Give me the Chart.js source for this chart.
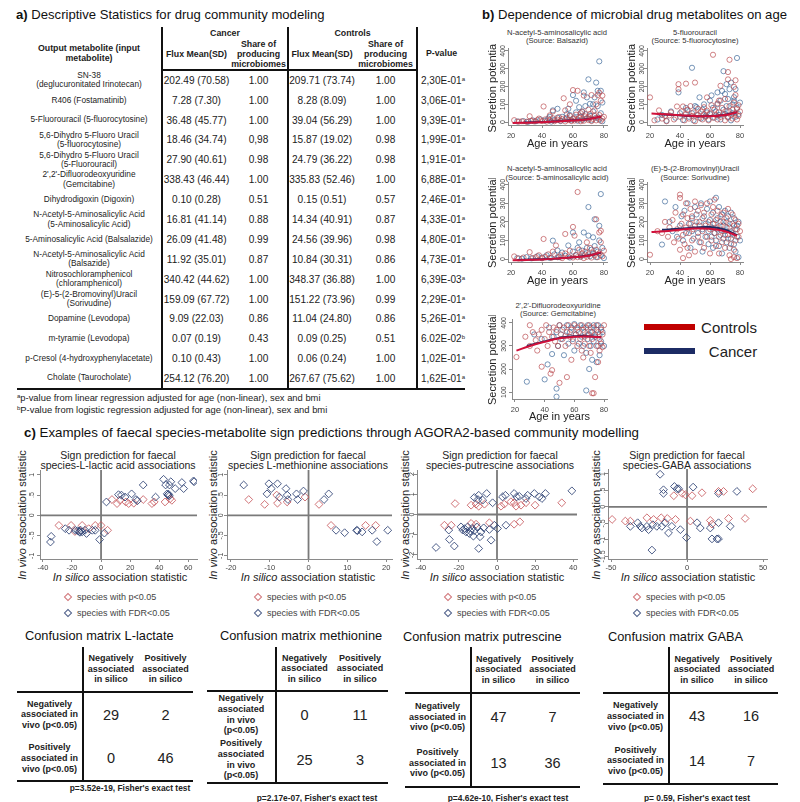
<!DOCTYPE html>
<html lang="en">
<head>
<meta charset="UTF-8">
<title>Drug community modeling</title>
<script src="https://cdn.jsdelivr.net/npm/chart.js"></script>
<style>
  * { box-sizing: border-box; }
  body { margin:0; background:#fff; font-family:"Liberation Sans", Arial, sans-serif; color:#222; }
  #page { position:relative; width:800px; height:802px; overflow:hidden; }
  .abs { position:absolute; white-space:nowrap; line-height:1; }
  .c { position:absolute; white-space:nowrap; line-height:1; transform:translate(-50%,-50%); text-align:center; }
  .rot { transform:translate(-50%,-50%) rotate(-90deg); }
  .ptitle { font-size:13.1px; color:#111; }
  .st { font-size:7.6px; color:#333; }
  .ct { font-size:10.5px; color:#222; }
  .ax { font-size:11px; color:#222; }
  .lg { font-size:9px; color:#444; }
  .dia { position:absolute; width:6px; height:6px; border:1px solid; transform:translate(-50%,-50%) rotate(45deg); }
  canvas { position:absolute; }
  #ta { position:absolute; left:17px; top:27px; width:448px; border-collapse:collapse; table-layout:fixed; }
  #ta td, #ta th { padding:0; text-align:center; vertical-align:middle; color:#1c1c1c; }
  #ta th { font-size:8.8px; line-height:1.15; }
  #ta td.lab { font-size:8.3px; line-height:1.12; }
  #ta td.val { font-size:10.1px; white-space:nowrap; }
  #ta td.p { text-align:left; padding-left:3px; font-size:10px; white-space:nowrap; }
  #ta .vr { border-right:2px solid #111; }
  #ta tr.h2 th { border-bottom:2px solid #111; }
  #ta tr.last td { border-bottom:2px solid #111; }
  .sup { font-size:6px; position:relative; top:-3px; }
  .fn { font-size:9.4px; color:#222; }
  .cmt { font-size:12.8px; color:#111; }
  table.cm { position:absolute; border-collapse:collapse; table-layout:fixed; }
  table.cm th, table.cm td { padding:0; text-align:center; vertical-align:middle; color:#222; }
  table.cm th { font-size:9px; line-height:1.17; }
  table.cm td.n { font-size:14.5px; }
  table.cm .vr { border-right:2px solid #111; }
  table.cm tr.hd th { border-bottom:2px solid #111; }
  table.cm tr.r2 th, table.cm tr.r2 td { border-bottom:2px solid #111; }
  .foot { font-size:8.4px; font-weight:bold; color:#222; }
</style>
</head>
<body>
<div id="page">
  <div class="abs ptitle" style="left:16px;top:8px"><b>a)</b> Descriptive Statistics for drug community modeling</div>
  <div class="abs ptitle" style="left:482px;top:8px"><b>b)</b> Dependence of microbial drug metabolites on age</div>
  <div class="abs ptitle" style="left:24px;top:426px;font-size:13.3px"><b>c)</b> Examples of faecal species-metabolite sign predictions through AGORA2-based community modelling</div>

  <table id="ta">
    <colgroup><col style="width:145px"><col style="width:68px"><col style="width:58px"><col style="width:67px"><col style="width:62px"><col style="width:48px"></colgroup>
    <tr class="h1" style="height:12px">
      <th rowspan="2" class="vr" style="padding-top:8px">Output metabolite (input<br>metabolite)</th>
      <th colspan="2" class="vr">Cancer</th>
      <th colspan="2" class="vr">Controls</th>
      <th rowspan="2" style="padding-top:8px">P-value</th>
    </tr>
    <tr class="h2" style="height:29px">
      <th>Flux Mean(SD)</th><th class="vr">Share of<br>producing<br>microbiomes</th>
      <th>Flux Mean(SD)</th><th class="vr">Share of<br>producing<br>microbiomes</th>
    </tr>
    <tbody id="tbody"></tbody>
  </table>
  <div class="abs fn" style="left:17px;top:393px"><span class="sup">a</span>p-value from linear regression adjusted for age (non-linear), sex and bmi</div>
  <div class="abs fn" style="left:17px;top:405px"><span class="sup">b</span>P-value from logistic regression adjusted for age (non-linear), sex and bmi</div>

  <!-- panel b subtitles -->
  <div class="c st" style="left:557px;top:33px">N-acetyl-5-aminosalicylic acid</div>
  <div class="c st" style="left:557px;top:41px">(Source: Balsazid)</div>
  <div class="c st" style="left:695px;top:33px">5-fluorouracil</div>
  <div class="c st" style="left:695px;top:41px">(Source: 5-fluorocytosine)</div>
  <div class="c st" style="left:557px;top:169px">N-acetyl-5-aminosalicylic acid</div>
  <div class="c st" style="left:557px;top:178px">(Source: 5-aminosalicylic acid)</div>
  <div class="c st" style="left:695px;top:169px">(E)-5-(2-Bromovinyl)Uracil</div>
  <div class="c st" style="left:695px;top:178px">(Source: Sorivudine)</div>
  <div class="c st" style="left:558px;top:306px">2',2'-Difluorodeoxyuridine</div>
  <div class="c st" style="left:558px;top:314px">(Source: Gemcitabine)</div>

  <!-- panel b legend -->
  <div class="abs" style="left:644px;top:324px;width:51px;height:6px;background:#c00000"></div>
  <div class="c" style="left:729px;top:327px;font-size:15px">Controls</div>
  <div class="abs" style="left:644px;top:348px;width:51px;height:6px;background:#1c2b64"></div>
  <div class="c" style="left:733px;top:351px;font-size:15px">Cancer</div>

  <!-- panel c titles -->
  <div class="c ct" style="left:118px;top:455px">Sign prediction for faecal</div>
  <div class="c ct" style="left:118px;top:465px">species-L-lactic acid associations</div>
  <div class="c ct" style="left:308px;top:455px">Sign prediction for faecal</div>
  <div class="c ct" style="left:308px;top:465px">species L-methionine associations</div>
  <div class="c ct" style="left:500px;top:455px">Sign prediction for faecal</div>
  <div class="c ct" style="left:500px;top:465px">species-putrescine associations</div>
  <div class="c ct" style="left:687px;top:455px">Sign prediction for faecal</div>
  <div class="c ct" style="left:687px;top:465px">species-GABA associations</div>

  <div class="c ax" style="left:120px;top:577px"><i>In silico</i> association statistic</div>
  <div class="c ax" style="left:308px;top:577px"><i>In silico</i> association statistic</div>
  <div class="c ax" style="left:497px;top:577px"><i>In silico</i> association statistic</div>
  <div class="c ax" style="left:688px;top:577px"><i>In silico</i> association statistic</div>
  <div class="c ax rot" style="left:22px;top:515px"><i>In vivo</i> association statistic</div>
  <div class="c ax rot" style="left:213px;top:515px"><i>In vivo</i> association statistic</div>
  <div class="c ax rot" style="left:405px;top:515px"><i>In vivo</i> association statistic</div>
  <div class="c ax rot" style="left:596px;top:515px"><i>In vivo</i> association statistic</div>
</div>

<script>
// ---------- panel a table ----------
const metabolites = [
  'SN-38\n(deglucuronitated Irinotecan)', 'R406 (Fostamatinib)', '5-Fluorouracil (5-fluorocytosine)',
  '5,6-Dihydro 5-Fluoro Uracil\n(5-fluorocytosine)', '5,6-Dihydro 5-Fluoro Uracil\n(5-Fluorouracil)',
  "2',2'-Difluorodeoxyuridine\n(Gemcitabine)", 'Dihydrodigoxin (Digoxin)',
  'N-Acetyl-5-Aminosalicylic Acid\n(5-Aminosalicylic Acid)', '5-Aminosalicylic Acid (Balsalazide)',
  'N-Acetyl-5-Aminosalicylic Acid\n(Balsazide)', 'Nitrosochloramphenicol\n(chloramphenicol)',
  '(E)-5-(2-Bromovinyl)Uracil\n(Sorivudine)', 'Dopamine (Levodopa)', 'm-tyramie (Levodopa)',
  'p-Cresol (4-hydroxyphenylacetate)', 'Cholate (Taurocholate)'
];
const cancerFlux = ['202.49 (70.58)', '7.28 (7.30)', '36.48 (45.77)', '18.46 (34.74)', '27.90 (40.61)',
  '338.43 (46.44)', '0.10 (0.28)', '16.81 (41.14)', '26.09 (41.48)', '11.92 (35.01)', '340.42 (44.62)',
  '159.09 (67.72)', '9.09 (22.03)', '0.07 (0.19)', '0.10 (0.43)', '254.12 (76.20)'];
const cancerShare = ['1.00', '1.00', '1.00', '0,98', '0.98', '1.00', '0.51', '0.88', '0.99', '0.87',
  '1.00', '1.00', '0.86', '0.43', '1.00', '1.00'];
const controlFlux = ['209.71 (73.74)', '8.28 (8.09)', '39.04 (56.29)', '15.87 (19.02)', '24.79 (36.22)',
  '335.83 (52.46)', '0.15 (0.51)', '14.34 (40.91)', '24.56 (39.96)', '10.84 (30.31)', '348.37 (36.88)',
  '151.22 (73.96)', '11.04 (24.80)', '0.09 (0.25)', '0.06 (0.24)', '267.67 (75.62)'];
const controlShare = ['1.00', '1.00', '1.00', '0.98', '0.98', '1.00', '0.57', '0.87', '0.98', '0.86',
  '1.00', '0.99', '0.86', '0.51', '1.00', '1.00'];
const pValues = ['2,30E-01', '3,06E-01', '9,39E-01', '1,99E-01', '1,91E-01', '6,88E-01', '2,46E-01',
  '4,33E-01', '4,80E-01', '4,73E-01', '6,39E-03', '2,29E-01', '5,26E-01', '6.02E-02', '1,02E-01', '1,62E-01'];
const pNotes = ['a', 'a', 'a', 'a', 'a', 'a', 'a', 'a', 'a', 'a', 'a', 'a', 'a', 'b', 'a', 'a'];

// ---------- panel b: secretion potential vs age, [age, value] ----------
const ageTicks = [20, 40, 60, 80];
const secTicks = [0, 100, 200, 300, 400];
const secTicksGem = [100, 200, 300, 400];

const b1Controls = [[22,11],[25,3],[27,5],[30,2],[32,33],[33,8],[35,4],[37,12],[38,20],[40,6],[41,88],[42,15],[43,3],[45,38],[45,10],[47,22],[48,5],[50,14],[51,28],[52,8],[53,18],[54,134],[55,66],[55,4],[56,25],[57,12],[58,35],[59,6],[60,180],[60,20],[61,9],[62,42],[63,176],[63,15],[64,28],[65,5],[65,50],[66,18],[67,149],[67,8],[68,32],[69,22],[70,29],[70,12],[71,45],[72,152],[72,6],[73,18],[74,66],[74,35],[75,10],[76,152],[76,25],[77,40],[78,121],[78,8],[79,149],[79,20],[80,30],[77,165],[75,100],[70,70],[66,60],[58,100],[47,60]];
const b1Cancer = [[24,4],[28,6],[31,2],[34,10],[36,5],[39,15],[42,8],[44,20],[46,3],[47,66],[48,12],[50,75],[50,25],[52,6],[53,30],[55,15],[57,75],[58,40],[59,10],[60,152],[61,22],[62,55],[63,8],[64,84],[65,30],[66,57],[66,12],[67,167],[68,45],[69,139],[70,240],[70,20],[71,35],[71,103],[72,10],[73,60],[74,139],[75,222],[75,25],[76,90],[76,176],[77,341],[77,15],[78,176],[78,50],[79,5],[79,110],[68,90],[62,120],[56,45],[45,30],[73,100]];
const b1FitControls = [[21,-5],[30,-3],[40,0],[50,4],[60,9],[70,17],[78,32]];
const b1FitCancer = [[28,-2],[40,1],[50,5],[60,10],[70,18],[78,30]];

const b2Controls = [[20,139],[23,10],[26,66],[28,20],[30,35],[31,5],[33,38],[34,55],[36,15],[38,88],[39,185],[39,213],[40,30],[41,60],[42,88],[43,10],[44,216],[44,45],[45,70],[46,20],[47,90],[48,35],[49,55],[50,222],[50,5],[51,40],[52,75],[53,25],[54,60],[55,15],[56,84],[56,45],[57,30],[58,139],[58,65],[59,10],[60,50],[61,95],[62,378],[62,25],[63,70],[64,40],[65,105],[65,15],[66,121],[66,55],[67,204],[67,30],[68,80],[69,45],[70,10],[70,130],[71,60],[72,281],[72,240],[72,25],[73,350],[73,90],[74,40],[75,70],[75,20],[76,198],[76,110],[77,235],[77,152],[77,50],[78,75],[78,15],[79,95],[79,35],[80,60]];
const b2Cancer = [[25,15],[28,40],[31,8],[34,60],[37,25],[39,167],[40,50],[42,12],[44,80],[45,66],[46,30],[48,305],[48,50],[49,10],[50,90],[51,84],[52,40],[53,139],[54,20],[55,70],[56,100],[57,35],[58,55],[59,15],[60,121],[60,45],[61,150],[62,80],[63,25],[64,60],[65,167],[65,100],[66,40],[67,121],[67,15],[68,175],[69,286],[69,70],[70,45],[70,158],[71,213],[71,90],[72,30],[72,130],[73,185],[73,60],[74,222],[74,10],[75,100],[75,50],[76,121],[76,140],[77,185],[77,30],[78,360],[78,80],[79,45],[80,110]];
const b2FitControls = [[21,48],[30,44],[40,39],[50,34],[60,33],[70,40],[78,55]];
const b2FitCancer = [[25,45],[40,38],[50,34],[60,34],[70,42],[78,55]];

const b3Controls = [[22,14],[25,3],[28,8],[32,37],[34,5],[36,10],[38,20],[40,4],[41,108],[42,12],[44,25],[46,6],[47,40],[49,73],[50,10],[52,20],[53,5],[55,135],[55,30],[57,12],[58,45],[60,173],[60,8],[61,126],[62,22],[63,361],[63,10],[64,50],[65,15],[66,30],[67,5],[68,40],[69,90],[69,12],[70,25],[71,60],[72,8],[73,35],[74,20],[75,214],[75,50],[76,10],[77,143],[77,30],[78,152],[78,90],[79,15],[80,45]];
const b3Cancer = [[24,5],[27,2],[30,10],[33,4],[37,15],[40,8],[43,20],[45,6],[47,99],[48,25],[50,46],[51,10],[53,35],[55,18],[57,73],[58,8],[60,143],[60,40],[62,20],[63,60],[64,90],[65,12],[66,45],[67,143],[68,25],[69,60],[70,126],[70,280],[71,15],[72,50],[73,117],[73,30],[74,214],[74,70],[75,10],[76,40],[77,179],[77,100],[78,350],[78,20],[79,60],[80,5]];
const b3FitControls = [[21,-7],[30,-5],[40,-2],[50,3],[60,9],[70,18],[78,36]];
const b3FitCancer = [[24,-5],[40,-1],[50,3],[60,9],[70,19],[78,34]];

const b4Controls = [[20,23],[25,150],[28,140],[30,200],[32,120],[33,170],[35,210],[36,90],[37,250],[38,160],[39,110],[40,347],[40,329],[40,50],[41,190],[42,130],[42,240],[43,80],[44,300],[44,170],[45,220],[45,60],[46,140],[47,270],[47,190],[48,100],[48,230],[49,160],[50,310],[50,40],[51,200],[52,120],[52,260],[53,180],[54,90],[54,290],[55,150],[55,220],[56,60],[56,250],[57,180],[58,120],[58,300],[59,200],[60,30],[60,160],[61,240],[61,100],[62,280],[62,190],[63,140],[63,320],[64,70],[64,210],[65,170],[65,260],[66,120],[66,30],[67,230],[67,180],[68,90],[68,150],[69,250],[69,200],[70,130],[70,60],[71,220],[71,170],[72,110],[72,270],[73,190],[73,20],[74,150],[74,80],[75,240],[75,130],[76,180],[76,50],[77,210],[77,100],[78,160],[78,5],[79,120],[79,190],[80,150],[76,10],[74,0],[42,5],[46,20]];
const b4Cancer = [[28,78],[30,310],[33,200],[35,150],[37,280],[38,120],[40,180],[41,230],[42,100],[43,260],[44,140],[45,300],[46,190],[47,60],[48,220],[48,150],[49,110],[50,280],[50,180],[51,240],[52,140],[53,90],[53,200],[54,300],[55,160],[55,40],[56,230],[57,120],[57,190],[58,270],[59,150],[59,80],[60,210],[60,310],[61,170],[61,120],[62,250],[62,60],[63,190],[63,140],[64,330],[64,100],[65,220],[65,160],[66,280],[66,70],[67,200],[67,130],[68,240],[68,30],[69,180],[69,110],[70,260],[70,150],[71,90],[71,200],[72,230],[72,130],[73,170],[73,60],[74,250],[74,110],[75,190],[75,140],[76,80],[76,220],[77,160],[77,40],[78,120],[78,180],[79,200],[79,10],[80,100]];
const b4FitControls = [[21,145],[30,150],[40,158],[50,164],[60,163],[70,150],[78,125]];
const b4FitCancer = [[28,158],[40,163],[50,170],[60,172],[70,158],[78,128]];

const b5Controls = [[21,252],[27,340],[30,390],[30,300],[32,360],[34,325],[35,280],[36,350],[38,210],[38,370],[40,330],[41,390],[42,300],[43,360],[44,180],[45,195],[45,340],[46,380],[47,320],[48,370],[49,300],[50,140],[50,390],[51,350],[52,330],[53,380],[54,300],[55,165],[55,360],[56,390],[57,340],[58,240],[58,370],[59,320],[60,390],[61,350],[62,300],[62,380],[63,360],[64,330],[65,390],[65,280],[66,370],[67,340],[67,310],[68,380],[69,350],[70,300],[70,390],[71,360],[72,95],[72,330],[73,95],[73,380],[74,165],[74,350],[75,300],[75,390],[76,230],[76,360],[77,330],[77,280],[78,370],[78,310],[79,350],[80,390],[79,295],[71,270],[66,250]];
const b5Cancer = [[28,145],[33,350],[38,330],[40,155],[42,220],[43,380],[45,265],[46,340],[48,80],[48,115],[48,360],[49,300],[50,390],[51,330],[52,370],[53,260],[54,345],[55,390],[56,310],[57,360],[58,380],[59,330],[60,280],[60,395],[61,350],[62,370],[63,310],[64,390],[65,340],[66,300],[66,380],[67,360],[68,107],[68,270],[69,390],[69,330],[70,200],[70,350],[71,380],[71,300],[72,360],[72,240],[73,390],[73,320],[74,340],[75,230],[75,370],[76,300],[76,390],[77,350],[77,260],[78,380],[78,320],[79,360],[80,300]];
const b5FitControls = [[21,280],[30,300],[40,318],[50,333],[60,340],[70,341],[78,338]];
const b5FitCancer = [[28,300],[40,320],[50,335],[60,342],[70,342],[78,338]];

// ---------- panel c: [in silico, in vivo] ----------
const lactateTicksX = [-40, -20, 0, 20, 40, 60];
const lactateTicksY = [-1, -0.5, 0, 0.5, 1];
const lactateP = [[-29,-0.25],[-20.6,-0.25],[-18,-0.4],[-13,-0.25],[-8.5,-0.33],[-4,-0.25],[0,-0.25],[4.5,-0.37],[7.5,0.39],[11,0.29],[13,0.37],[17,0.33],[19,0.29],[22.5,0.3],[29,0.39],[35,0.29],[36.6,0.33],[44,0.33],[47.5,0.41],[48.7,0.37]];
const lactateFDR = [[-34.3,-0.52],[-34.8,-0.66],[-24.6,-0.33],[-22,-0.37],[-17.6,-0.37],[-16,-0.38],[-15,-0.4],[-14.5,-0.42],[-14,-0.37],[-13,-0.41],[-11,-0.37],[-10,-0.45],[-6,-0.37],[-4,-0.37],[-1,-0.6],[2.3,-0.44],[3.7,0.33],[12,0.51],[14,0.5],[16.5,0.45],[21,0.53],[24,0.39],[25,0.36],[29,0.75],[37.5,0.45],[43,0.89],[44.4,0.75],[45.5,0.53],[46,0.5],[46.5,0.52],[47,0.48],[47,0.75],[48,0.83],[51,0.66],[55.6,0.81],[56.8,0.66],[63.6,0.85],[64,0.83]];

const methTicksX = [-20, -10, 0, 10, 20];
const methTicksY = [-1, -0.5, 0, 0.5, 1];
const methP = [[-15.4,0.39],[-11.3,0.27],[-8.2,0.5],[-8,0.3],[-5.5,0.33],[-0.9,0.45],[2.7,0.27],[5.8,-0.25],[14.7,-0.25],[17.3,-0.25]];
const methFDR = [[-16.7,0.75],[-10.7,0.53],[-10.2,0.78],[-9.6,0.66],[-8,0.78],[-7.5,0.45],[-5.8,0.66],[-5.5,0.5],[-5.3,0.39],[-3.1,0.53],[-2.8,0.39],[-1.3,0.6],[4,0.39],[5.2,0.53],[7.1,-0.37],[9.3,-0.43],[12.4,-0.37],[12.6,-0.38],[13.8,-0.41],[16.4,-0.37],[17.6,-0.65],[20.4,-0.37]];

const putTicksX = [-40, -20, 0, 20, 40];
const putTicksY = [-2, -1, 0, 1, 2];
const putP = [[-27.6,-0.53],[-24,-0.53],[-22,0.54],[-13.6,0.46],[-11,0.51],[-9.6,0.41],[-6.6,0.51],[-13.6,-0.44],[-11,-0.48],[-4,-0.41],[2.1,0.41],[3.8,0.51],[7.3,0.63],[9,0.58],[10,0.41],[12.6,0.46],[15.2,0.58],[20,0.46],[34,0.58],[9,-0.48],[12,-0.36]];
const putFDR = [[-32,-1.63],[-25.3,-0.77],[-25,-1.23],[-22.4,-1.56],[-18.9,-0.61],[-18,-0.77],[-16.3,-0.86],[-15.4,-0.61],[-14.5,-0.94],[-13.1,-0.69],[-12.4,-1.07],[-11.9,0.84],[-10,0.74],[-9.6,0.95],[-9.6,-1.68],[-8.9,-1.1],[-8.4,-0.86],[-7.5,0.71],[-5.4,1.04],[-4,-0.74],[-2.3,0.58],[-3.1,-1.27],[-1.4,-0.53],[0.3,-0.69],[2.9,0.87],[4.4,0.95],[4.7,-0.53],[9,1.04],[10.3,0.87],[11.7,0.9],[15.2,0.79],[16.1,0.95],[19.6,1.04],[22.2,0.87],[23.6,0.79],[25.4,1.04],[39.3,1.17],[-17,-0.7],[-12,-0.8],[-10.5,-0.62],[-7,-0.66],[-14,-0.82]];

const gabaTicksX = [-50, 0, 50];
const gabaTicksY = [-1.5, -1, -0.5, 0, 0.5, 1];
const gabaP = [[-49.3,-0.38],[-40.6,-0.43],[-37.3,-0.43],[-26.4,-0.33],[-22,-0.38],[-17,-0.33],[-13,-0.35],[-7.6,-0.38],[-8.7,0.34],[-3.3,0.41],[-1.1,0.37],[3.3,0.34],[2.2,-0.43],[9.8,0.43],[15.3,-0.41],[16.4,-0.52],[20.7,0.47],[24,0.47],[27.3,-0.35],[38.2,-0.35],[43.2,0.55]];
const gabaFDR = [[-37.3,-0.59],[-32.5,-0.48],[-30.8,-0.59],[-29.7,-0.64],[-26.4,-0.59],[-25.3,-0.69],[-23.1,-1.31],[-22.5,-0.54],[-19.9,-0.59],[-17.7,0.99],[-16.6,-0.59],[-15.5,0.52],[-15.5,0.41],[-14.4,-0.48],[-12.2,-0.79],[-10,-0.59],[-8.3,0.62],[-6.6,0.55],[-5.5,0.55],[-4.4,-0.69],[-0.4,-0.93],[4,0.6],[6.6,-0.48],[8.7,-0.64],[15.3,-0.64],[16.4,-0.97],[19.7,-0.97],[20.7,-0.97],[20.7,-0.48],[20.7,0.41],[28.4,-0.59],[32.8,0.47]];

// ---------- confusion matrices: [neg/neg, neg/pos, pos/neg, pos/pos] ----------
const lactateCounts = [29, 2, 0, 46];
const methCounts = [0, 11, 25, 3];
const putCounts = [47, 7, 13, 36];
const gabaCounts = [43, 16, 14, 7];
const fisherP = ['p=3.52e-19', 'p=2.17e-07', 'p=4.62e-10', 'p= 0.59'];

// ================= drawing =================
const FONT = '"Liberation Sans", Arial, sans-serif';
Chart.defaults.font.family = FONT;
const page = document.getElementById('page');

// table a
const tbody = document.getElementById('tbody');
metabolites.forEach((m, i) => {
  const tr = document.createElement('tr');
  tr.style.height = '19.9px';
  if (i === metabolites.length - 1) tr.className = 'last';
  tr.innerHTML = `<td class="lab vr">${m.replace('\n', '<br>')}</td>` +
    `<td class="val">${cancerFlux[i]}</td><td class="val vr">${cancerShare[i]}</td>` +
    `<td class="val">${controlFlux[i]}</td><td class="val vr">${controlShare[i]}</td>` +
    `<td class="p">${pValues[i]}<span class="sup">${pNotes[i]}</span></td>`;
  tbody.appendChild(tr);
});

const stata = v => v === 0 ? '0' : String(v).replace(/^(-?)0\./, '$1.');
const pts = a => a.map(([x, y]) => ({x, y}));

// rotated y tick labels (Stata style)
const vTicks = {
  id: 'vTicks',
  afterDraw(chart, args, o) {
    const s = chart.scales.y, ctx = chart.ctx;
    ctx.save();
    ctx.font = `${o.size}px ${FONT}`;
    ctx.fillStyle = o.color;
    ctx.textAlign = 'center';
    ctx.textBaseline = 'middle';
    s.ticks.forEach(t => {
      ctx.save();
      ctx.translate(o.x, s.getPixelForValue(t.value));
      ctx.rotate(-Math.PI / 2);
      ctx.fillText(t.label, 0, 0);
      ctx.restore();
    });
    ctx.restore();
  }
};

// reference lines at x=0 and y=0
const zeroLines = {
  id: 'zeroLines',
  beforeDatasetsDraw(chart, args, o) {
    if (!o.show) return;
    const {ctx, chartArea: a, scales: {x, y}} = chart;
    const px = x.getPixelForValue(0), py = y.getPixelForValue(0);
    ctx.save();
    ctx.strokeStyle = '#7a7a7a';
    ctx.lineWidth = 1.8;
    ctx.beginPath();
    ctx.moveTo(px, a.top); ctx.lineTo(px, a.bottom);
    ctx.moveTo(a.left, py); ctx.lineTo(a.right, py);
    ctx.stroke();
    ctx.restore();
  }
};

function makeChart(o) {
  const cv = document.createElement('canvas');
  cv.width = o.cw; cv.height = o.ch;
  cv.style.cssText = `left:${o.cx}px;top:${o.cy}px;width:${o.cw}px;height:${o.ch}px`;
  page.appendChild(cv);
  const axisCol = '#8a8a8a';
  return new Chart(cv, {
    type: 'scatter',
    data: { datasets: o.datasets },
    options: {
      responsive: false,
      animation: false,
      events: [],
      layout: { padding: { left: 0, bottom: 0, top: o.area.t - o.cy, right: o.cx + o.cw - o.area.r } },
      plugins: {
        legend: { display: false },
        tooltip: { enabled: false },
        vTicks: { x: o.tickX - o.cx, size: 7, color: '#444' },
        zeroLines: { show: !!o.zero }
      },
      scales: {
        x: {
          type: 'linear', min: o.xr[0], max: o.xr[1],
          afterBuildTicks: s => { s.ticks = o.xTicks.map(v => ({value: v})); },
          afterFit: s => { s.height = o.cy + o.ch - o.area.b; },
          ticks: { autoSkip: false, maxRotation: 0, padding: o.xPad, font: {size: 7.5}, color: '#444', callback: v => stata(v) },
          grid: { drawOnChartArea: false, tickLength: 3, color: axisCol },
          border: { color: axisCol },
          title: o.xTitle ? { display: true, text: o.xTitle, font: {size: 11}, color: '#222', padding: 0 } : { display: false }
        },
        y: {
          type: 'linear', min: o.yr[0], max: o.yr[1],
          afterBuildTicks: s => { s.ticks = o.yTicks.map(v => ({value: v})); },
          afterFit: s => { s.width = o.area.l - o.cx; },
          ticks: { display: false, callback: v => stata(v) },
          grid: { drawOnChartArea: false, tickLength: 3, color: axisCol },
          border: { color: axisCol },
          title: o.yTitle ? { display: true, text: o.yTitle, font: {size: 11}, color: '#222', padding: 0 } : { display: false }
        }
      }
    },
    plugins: [vTicks, zeroLines]
  });
}

// panel b datasets
const RED_PT = 'rgba(185,70,75,0.75)', BLUE_PT = 'rgba(55,100,150,0.75)';
const RED_LN = '#d0103a', NAVY_LN = '#1c2b64';
function ageSets(ctrl, canc, fitCtrl, fitCanc) {
  const line = (d, c) => ({ data: pts(d), showLine: true, borderColor: c, borderWidth: 2, pointRadius: 0, tension: 0.4, fill: false });
  const dots = (d, c) => ({ data: pts(d), pointStyle: 'circle', pointRadius: 2.6, borderWidth: 0.9, borderColor: c, backgroundColor: 'transparent' });
  return [line(fitCtrl, RED_LN), line(fitCanc, NAVY_LN), dots(ctrl, RED_PT), dots(canc, BLUE_PT)];
}

const bCommon = { xr: [18, 82], xTicks: ageTicks, xPad: 3, xTitle: 'Age in years', yTitle: 'Secretion potential' };
makeChart({ ...bCommon, cx: 486, cy: 44, cw: 131, ch: 107, area: {l: 508, r: 607, t: 47, b: 125}, yr: [-16, 411], yTicks: secTicks, tickX: 503,
  datasets: ageSets(b1Controls, b1Cancer, b1FitControls, b1FitCancer) });
makeChart({ ...bCommon, cx: 625, cy: 44, cw: 130, ch: 107, area: {l: 647, r: 743, t: 47, b: 125}, yr: [-16, 411], yTicks: secTicks, tickX: 642,
  datasets: ageSets(b2Controls, b2Cancer, b2FitControls, b2FitCancer) });
makeChart({ ...bCommon, cx: 486, cy: 178, cw: 131, ch: 110, area: {l: 508, r: 607, t: 181, b: 262}, yr: [-16, 410], yTicks: secTicks, tickX: 503,
  datasets: ageSets(b3Controls, b3Cancer, b3FitControls, b3FitCancer) });
makeChart({ ...bCommon, cx: 625, cy: 178, cw: 130, ch: 110, area: {l: 647, r: 743, t: 181, b: 262}, yr: [-16, 410], yTicks: secTicks, tickX: 642,
  datasets: ageSets(b4Controls, b4Cancer, b4FitControls, b4FitCancer) });
makeChart({ ...bCommon, cx: 486, cy: 315, cw: 131, ch: 109, area: {l: 512, r: 607, t: 318, b: 399}, yr: [70, 413], yTicks: secTicksGem, tickX: 504,
  datasets: ageSets(b5Controls, b5Cancer, b5FitControls, b5FitCancer) });

// panel c datasets
const RED_D = 'rgba(200,90,95,0.85)', BLUE_D = 'rgba(45,65,115,0.85)';
function signSets(p, fdr) {
  const dia = (d, c) => ({ data: pts(d), pointStyle: 'rectRot', pointRadius: 3.9, borderWidth: 1, borderColor: c, backgroundColor: 'transparent' });
  return [dia(fdr, BLUE_D), dia(p, RED_D)];
}
const cCommon = { xPad: 1.5, zero: true, cy: 462, ch: 112 };
makeChart({ ...cCommon, cx: 24, cw: 183, area: {l: 40, r: 197, t: 470, b: 559}, xr: [-42, 66], yr: [-1.08, 1.12],
  xTicks: lactateTicksX, yTicks: lactateTicksY, tickX: 32, datasets: signSets(lactateP, lactateFDR) });
makeChart({ ...cCommon, cx: 214, cw: 186, area: {l: 227, r: 392, t: 470, b: 559}, xr: [-21, 21.5], yr: [-1.08, 1.12],
  xTicks: methTicksX, yTicks: methTicksY, tickX: 221, datasets: signSets(methP, methFDR) });
makeChart({ ...cCommon, cx: 405, cw: 182, area: {l: 417, r: 577, t: 470, b: 559}, xr: [-42, 42], yr: [-2.2, 2.2],
  xTicks: putTicksX, yTicks: putTicksY, tickX: 412, datasets: signSets(putP, putFDR) });
makeChart({ ...cCommon, cx: 598, cw: 179, area: {l: 608, r: 767, t: 469, b: 559}, xr: [-52, 52.6], yr: [-1.58, 1.15],
  xTicks: gabaTicksX, yTicks: gabaTicksY, tickX: 603, datasets: signSets(gabaP, gabaFDR) });

// panel c legends
[68, 258, 448, 637].forEach(x => {
  [[597, RED_D, 'species with p&lt;0.05'], [613, BLUE_D, 'species with FDR&lt;0.05']].forEach(([y, c, txt]) => {
    const d = document.createElement('div');
    d.className = 'dia'; d.style.left = x + 'px'; d.style.top = y + 'px'; d.style.borderColor = c;
    page.appendChild(d);
    const t = document.createElement('div');
    t.className = 'abs lg'; t.style.left = (x + 9) + 'px'; t.style.top = (y - 4.5) + 'px'; t.innerHTML = txt;
    page.appendChild(t);
  });
});

// confusion matrices
const matrixLayout = [
  { x: 17, w: [66, 55, 55], titleX: 25, titleY: 637, top: 647, hdr: 692, bottom: 781, footY: 788, footCx: 130, lab4: false },
  { x: 207, w: [69, 56, 56], titleX: 220, titleY: 637, top: 647, hdr: 691, bottom: 783, footY: 798, footCx: 317, lab4: true },
  { x: 405, w: [66, 54, 55], titleX: 403, titleY: 638, top: 647, hdr: 693, bottom: 787, footY: 798, footCx: 508, lab4: false },
  { x: 603, w: [66, 55, 54], titleX: 608, titleY: 638, top: 647, hdr: 693, bottom: 784, footY: 798, footCx: 697, lab4: false }
];
const matrixTitles = ['Confusion matrix L-lactate', 'Confusion matrix methionine', 'Confusion matrix putrescine', 'Confusion matrix GABA'];
const matrixCounts = [lactateCounts, methCounts, putCounts, gabaCounts];
matrixLayout.forEach((m, k) => {
  const t = document.createElement('div');
  t.className = 'abs cmt'; t.style.left = m.titleX + 'px'; t.style.top = (m.titleY - 7) + 'px';
  t.textContent = matrixTitles[k];
  page.appendChild(t);
  const n = matrixCounts[k];
  const rh = (m.bottom - m.hdr) / 2;
  const lab = s => m.lab4 ? `${s}<br>associated<br>in vivo<br>(p&lt;0.05)` : `${s}<br>associated in<br>vivo (p&lt;0.05)`;
  const tb = document.createElement('table');
  tb.className = 'cm';
  tb.style.left = m.x + 'px'; tb.style.top = m.top + 'px'; tb.style.width = (m.w[0] + m.w[1] + m.w[2]) + 'px';
  tb.innerHTML = `<colgroup>${m.w.map(w => `<col style="width:${w}px">`).join('')}</colgroup>` +
    `<tr class="hd" style="height:${m.hdr - m.top}px"><th class="vr"></th><th>Negatively<br>associated<br>in silico</th><th>Positively<br>associated<br>in silico</th></tr>` +
    `<tr style="height:${rh}px"><th class="vr">${lab('Negatively')}</th><td class="n">${n[0]}</td><td class="n">${n[1]}</td></tr>` +
    `<tr class="r2" style="height:${rh}px"><th class="vr">${lab('Positively')}</th><td class="n">${n[2]}</td><td class="n">${n[3]}</td></tr>`;
  page.appendChild(tb);
  const f = document.createElement('div');
  f.className = 'c foot'; f.style.left = m.footCx + 'px'; f.style.top = m.footY + 'px';
  f.textContent = `${fisherP[k]}, Fisher's exact test`;
  page.appendChild(f);
});
</script>
</body>
</html>
